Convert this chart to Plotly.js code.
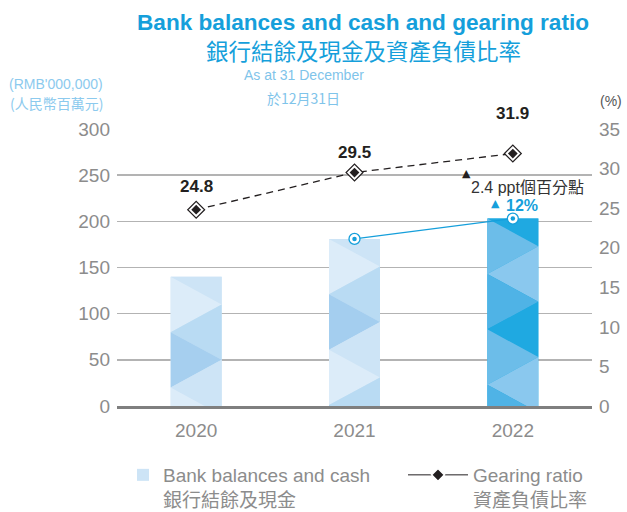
<!DOCTYPE html>
<html>
<head>
<meta charset="utf-8">
<script src="https://cdn.plot.ly/plotly-3.0.1.min.js"></script>
<style>html,body{margin:0;padding:0;background:#fff;}#chart{width:627px;height:512px;}</style>
</head>
<body>
<div id="chart"></div>
<script>
// ---- data ----
const years = ['2020', '2021', '2022'];
const bankCash = [140, 181, 203];          // RMB'000,000
const gearing = [24.8, 29.5, 31.9];        // %
const leftTicks = [0, 50, 100, 150, 200, 250, 300];
const rightTicks = [0, 5, 10, 15, 20, 25, 30, 35];

const FONT = "'Liberation Sans', 'Noto Sans CJK TC', sans-serif";
const CJK = "'Noto Sans CJK TC', 'Liberation Sans', sans-serif";
const CYAN = '#159fdb';
const LIGHTBLUE = '#7fc4ea';
const GREY = '#8c8c8c';

// plot box in pixels (for placing free text)
const M = {l: 117, r: 35, t: 129, b: 106, autoexpand: false};
const PW = 627 - M.l - M.r, PH = 512 - M.t - M.b;
const px = x => (x - M.l) / PW;
const py = y => (512 - M.b - y) / PH;

const BAR_W = 0.322;
const TRI_STEP = 30;
const palettes = [
  ['#cde4f6', '#dcecf9', '#b9dbf3', '#a6cfef'],
  ['#cde4f6', '#dcecf9', '#b9dbf3', '#a4ceef'],
  ['#1fa9e1', '#6cbde9', '#8ac8ee', '#4fb3e6']
];

const xIdx = years.map((_, i) => i);
const traces = [];

traces.push({
  type: 'bar', x: xIdx, y: bankCash, width: BAR_W,
  marker: {color: palettes.map(p => p[0]), line: {width: 0}},
  name: 'Bank balances and cash<br>銀行結餘及現金',
  hoverinfo: 'skip', legend: 'legend'
});

// triangle decoration inside each bar
bankCash.forEach((v, i) => {
  const L = i - BAR_W / 2, R = i + BAR_W / 2;
  const pt = j => [j % 2 === 0 ? L : R, v - j * TRI_STEP];
  for (let k = 0; k === 0 || v - (k - 1) * TRI_STEP > 0; k++) {
    const pts = k === 0 ? [[L, v], [R, v], pt(1)] : [pt(k - 1), pt(k), pt(k + 1)];
    pts.push(pts[0]);
    traces.push({
      type: 'scatter', mode: 'lines', x: pts.map(p => p[0]), y: pts.map(p => p[1]),
      fill: 'toself', fillcolor: palettes[i][k % 4], line: {width: 0, color: palettes[i][k % 4]},
      hoverinfo: 'skip', showlegend: false
    });
  }
});

// growth line between last two bars
traces.push({
  type: 'scatter', mode: 'lines+markers', x: xIdx.slice(1), y: bankCash.slice(1),
  line: {color: CYAN, width: 1.3},
  marker: {symbol: 'circle', size: 11, color: '#ffffff', line: {color: CYAN, width: 1.3}},
  hoverinfo: 'skip', showlegend: false
});
traces.push({
  type: 'scatter', mode: 'markers', x: xIdx.slice(1), y: bankCash.slice(1),
  marker: {symbol: 'circle', size: 4.5, color: CYAN},
  hoverinfo: 'skip', showlegend: false
});

// gearing ratio
traces.push({
  type: 'scatter', mode: 'lines', x: xIdx, y: gearing, yaxis: 'y2',
  line: {color: '#231f20', width: 1.3, dash: '7px,5px'},
  hoverinfo: 'skip', showlegend: false
});
traces.push({
  type: 'scatter', mode: 'markers', x: xIdx, y: gearing, yaxis: 'y2',
  marker: {symbol: 'diamond', size: 13, color: '#ffffff', line: {color: '#231f20', width: 1.2}},
  hoverinfo: 'skip', showlegend: false
});
traces.push({
  type: 'scatter', mode: 'markers', x: xIdx, y: gearing, yaxis: 'y2',
  marker: {symbol: 'diamond', size: 7.5, color: '#231f20'},
  hoverinfo: 'skip', showlegend: false
});
// legend entry for gearing ratio
traces.push({
  type: 'scatter', mode: 'lines+markers', x: [null], y: [null], yaxis: 'y2',
  line: {color: '#231f20', width: 1},
  marker: {symbol: 'diamond', size: 10, color: '#231f20', line: {color: '#ffffff', width: 1.5}},
  name: 'Gearing ratio<br>資產負債比率', legend: 'legend2'
});

const pptChange = (gearing[2] - gearing[1]).toFixed(1);
const growthPct = Math.round((bankCash[2] / bankCash[1] - 1) * 100);
const labelShift = [23, 20, 40];

const annotations = [
  {text: '<b>Bank balances and cash and gearing ratio</b>', x: px(363), y: py(22), font: {size: 22.6, color: CYAN, family: FONT}},
  {text: '銀行結餘及現金及資產負債比率', x: px(363), y: py(50), font: {size: 22.5, color: CYAN, family: CJK}},
  {text: 'As at 31 December', x: px(304), y: py(75), font: {size: 14, color: LIGHTBLUE, family: FONT}},
  {text: '於12月31日', x: px(303), y: py(98), font: {size: 14, color: LIGHTBLUE, family: CJK}},
  {text: "(RMB'000,000)", x: px(56), y: py(84), font: {size: 14, color: '#8ccaee', family: FONT}},
  {text: '(人民幣百萬元)', x: px(56), y: py(103), font: {size: 14, color: '#8ccaee', family: CJK}},
  {text: '(%)', x: px(611), y: py(101), font: {size: 14, color: '#555555', family: FONT}},
  {text: '▲', x: px(466), y: py(173), font: {size: 11, color: '#231f20', family: "'DejaVu Sans', sans-serif"}},
  {text: pptChange + ' ppt個百分點', x: px(527), y: py(187), font: {size: 16, color: '#333333', family: FONT}},
  {text: '▲', x: px(495), y: py(203), font: {size: 11, color: CYAN, family: "'DejaVu Sans', sans-serif"}},
  {text: '<b>' + growthPct + '%</b>', x: px(522), y: py(205), font: {size: 16, color: CYAN, family: FONT}}
].map(a => Object.assign({xref: 'paper', yref: 'paper', showarrow: false, xanchor: 'center', yanchor: 'middle'}, a));

gearing.forEach((g, i) => {
  annotations.push({
    xref: 'x', yref: 'y2', x: xIdx[i], y: g, yshift: labelShift[i], showarrow: false,
    text: '<b>' + g.toFixed(1) + '</b>', font: {size: 17, color: '#231f20', family: FONT},
    xanchor: 'center', yanchor: 'middle'
  });
});

const legendBase = {
  orientation: 'h', xanchor: 'left', yanchor: 'top', y: py(456),
  font: {size: 19, color: GREY, family: FONT}, valign: 'top', bgcolor: 'rgba(0,0,0,0)'
};

const layout = {
  width: 627, height: 512,
  margin: M,
  paper_bgcolor: '#ffffff', plot_bgcolor: '#ffffff',
  showlegend: true,
  hovermode: false,
  font: {family: FONT, color: GREY},
  xaxis: {
    range: [-0.5, 2.5], tickvals: xIdx, ticktext: years, showgrid: false, zeroline: false,
    showline: true, linecolor: '#7f7f7f', linewidth: 3, ticks: '', ticklabelstandoff: 5,
    tickfont: {size: 19, color: GREY, family: FONT}, fixedrange: true, automargin: false
  },
  yaxis: {
    range: [0, 300], tickvals: leftTicks, showgrid: true, gridcolor: '#b3b3b3', gridwidth: 1.5,
    zeroline: false, ticks: '', ticklabelstandoff: 6, tickfont: {size: 19, color: GREY, family: FONT},
    fixedrange: true, automargin: false
  },
  yaxis2: {
    range: [0, 35], tickvals: rightTicks, overlaying: 'y', side: 'right', showgrid: false,
    zeroline: false, ticks: '', ticklabelstandoff: 6, tickfont: {size: 19, color: GREY, family: FONT},
    fixedrange: true, automargin: false
  },
  legend: Object.assign({}, legendBase, {x: px(123)}),
  legend2: Object.assign({}, legendBase, {x: px(403), itemwidth: 60}),
  annotations: annotations
};

Plotly.newPlot('chart', traces, layout, {staticPlot: true, displayModeBar: false});
</script>
</body>
</html>
